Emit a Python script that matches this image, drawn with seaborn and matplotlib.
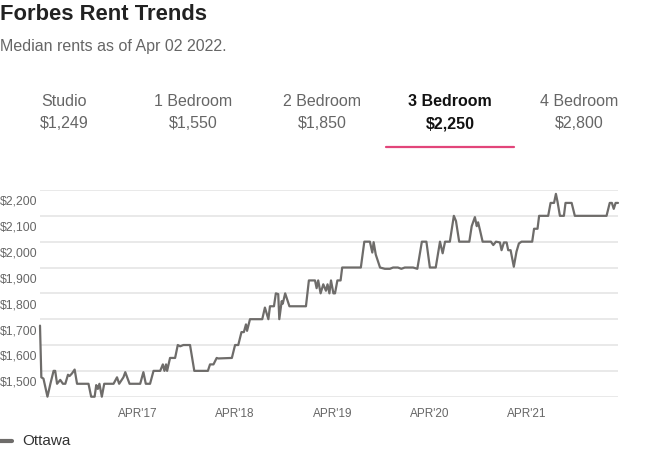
import pandas as pd
import matplotlib.pyplot as plt
import matplotlib.transforms as mtransforms
from matplotlib.lines import Line2D
import seaborn as sns

# median 3 bedroom rent, Ottawa
dates = [
    "2016-03-30", "2016-04-04", "2016-04-12", "2016-04-27", "2016-05-08", "2016-05-20",
    "2016-05-26", "2016-06-02", "2016-06-14", "2016-06-24", "2016-07-03", "2016-07-13",
    "2016-07-19", "2016-07-28", "2016-08-07", "2016-08-16", "2016-09-28", "2016-10-08",
    "2016-10-21", "2016-10-27", "2016-11-02", "2016-11-08", "2016-11-17", "2016-11-26",
    "2016-12-31", "2017-01-13", "2017-01-21", "2017-02-06", "2017-02-13", "2017-03-01",
    "2017-04-10", "2017-04-22", "2017-05-01", "2017-05-17", "2017-05-30", "2017-06-24",
    "2017-07-04", "2017-07-10", "2017-07-16", "2017-07-20", "2017-07-31", "2017-08-19",
    "2017-08-29", "2017-09-07", "2017-09-19", "2017-10-14", "2017-10-30", "2017-12-20",
    "2017-12-28", "2018-01-10", "2018-01-22", "2018-01-28", "2018-03-20", "2018-04-01",
    "2018-04-13", "2018-04-25", "2018-05-04", "2018-05-12", "2018-05-16", "2018-05-27",
    "2018-07-12", "2018-07-22", "2018-08-04", "2018-08-10", "2018-08-25", "2018-09-01",
    "2018-09-10", "2018-09-14", "2018-09-23", "2018-09-27", "2018-10-06", "2018-10-22",
    "2018-12-23", "2019-01-03", "2019-01-26", "2019-02-01", "2019-02-07", "2019-02-16",
    "2019-02-26", "2019-03-08", "2019-03-14", "2019-03-21", "2019-03-27", "2019-04-05",
    "2019-04-11", "2019-04-20", "2019-05-02", "2019-05-08", "2019-07-17", "2019-07-30",
    "2019-08-20", "2019-08-29", "2019-09-03", "2019-09-11", "2019-09-27", "2019-10-15",
    "2019-11-03", "2019-11-15", "2019-12-03", "2019-12-16", "2019-12-29", "2020-01-29",
    "2020-02-14", "2020-03-02", "2020-03-19", "2020-04-01", "2020-04-23", "2020-05-09",
    "2020-05-19", "2020-05-28", "2020-06-15", "2020-06-30", "2020-07-08", "2020-07-20",
    "2020-08-27", "2020-09-05", "2020-09-17", "2020-09-24", "2020-09-29", "2020-10-06",
    "2020-10-16", "2020-11-16", "2020-11-25", "2020-12-05", "2020-12-20", "2020-12-26",
    "2021-01-04", "2021-01-14", "2021-01-20", "2021-01-29", "2021-02-10", "2021-02-20",
    "2021-03-01", "2021-03-11", "2021-04-20", "2021-04-27", "2021-05-10", "2021-05-16",
    "2021-06-19", "2021-06-28", "2021-07-11", "2021-07-18", "2021-07-24", "2021-08-02",
    "2021-08-17", "2021-08-23", "2021-09-15", "2021-09-27", "2022-01-24", "2022-02-05",
    "2022-02-13", "2022-02-20", "2022-02-27", "2022-03-08",
]
rents = [
    1775, 1575, 1570, 1500, 1550, 1600,
    1600, 1550, 1565, 1550, 1550, 1585,
    1580, 1590, 1605, 1550, 1550, 1500,
    1500, 1545, 1530, 1550, 1500, 1550,
    1550, 1575, 1550, 1575, 1595, 1550,
    1550, 1595, 1550, 1550, 1600, 1600,
    1625, 1600, 1625, 1600, 1650, 1650,
    1700, 1695, 1700, 1700, 1600, 1600,
    1625, 1625, 1650, 1648, 1650, 1700,
    1700, 1750, 1750, 1780, 1755, 1800,
    1800, 1845, 1800, 1850, 1850, 1900,
    1897, 1800, 1870, 1860, 1900, 1850,
    1850, 1950, 1950, 1920, 1950, 1900,
    1935, 1910, 1935, 1900, 1950, 1900,
    1900, 1950, 1950, 2000, 2000, 2100,
    2100, 2058, 2098, 2050, 2000, 1995,
    1995, 2000, 2000, 1995, 2000, 2000,
    1995, 2100, 2100, 2000, 2000, 2100,
    2055, 2100, 2100, 2200, 2180, 2100,
    2100, 2160, 2195, 2160, 2175, 2145,
    2100, 2100, 2087, 2100, 2097, 2067,
    2097, 2097, 2067, 2067, 2003, 2061,
    2093, 2100, 2100, 2150, 2150, 2200,
    2200, 2250, 2250, 2285, 2255, 2200,
    2200, 2250, 2250, 2200, 2200, 2250,
    2250, 2227, 2250, 2250,
]

tab_names = ["Studio", "1 Bedroom", "2 Bedroom", "3 Bedroom", "4 Bedroom"]
tab_values = ["$1,249", "$1,550", "$1,850", "$2,250", "$2,800"]
selected_tab = "3 Bedroom"

y_ticks = [1500, 1600, 1700, 1800, 1900, 2000, 2100, 2200, 2300]
y_labels = ["$1,500", "$1,600", "$1,700", "$1,800", "$1,900", "$2,000", "$2,100", "$2,200"]
x_ticks = ["2017-04-01", "2018-04-01", "2019-04-01", "2020-04-01", "2021-04-01"]
x_labels = ["APR'17", "APR'18", "APR'19", "APR'20", "APR'21"]

df = pd.DataFrame({"date": pd.to_datetime(dates), "rent": rents})

sns.set_style("white")
plt.rcParams["font.family"] = ["Liberation Sans", "DejaVu Sans"]

W, H = 647, 455
fig = plt.figure(figsize=(W / 100, H / 100), dpi=100)
ax = fig.add_axes([40 / W, 1 - 396.7 / H, 578 / W, (396.7 - 190) / H])

sns.lineplot(data=df, x="date", y="rent", ax=ax, color="#6e6c6a", linewidth=1.6)
for ln in ax.lines:
    ln.set_clip_on(False)

ax.set_xlim(df["date"].min(), df["date"].max())
ax.set_ylim(1500, 2300)
ax.set_yticks(y_ticks)
ax.set_yticklabels([])
ax.yaxis.grid(True, color="#e3e3e3", linewidth=1.1)
ax.xaxis.grid(False)
ax.set_xticks(pd.to_datetime(x_ticks))
ax.set_xticklabels(x_labels, fontsize=8.5, color="#666666")
ax.tick_params(axis="both", length=0)
ax.tick_params(axis="x", pad=8)
ax.set_xlabel("")
ax.set_ylabel("")
for s in ax.spines.values():
    s.set_visible(False)

# y labels sit above their gridlines at the left edge
trans = mtransforms.blended_transform_factory(fig.transFigure, ax.transData)
trans = mtransforms.offset_copy(trans, fig=fig, x=0, y=14, units="dots")
for val, lab in zip(y_ticks, y_labels):
    ax.text(0.0, val, lab, transform=trans, ha="left", va="center",
            fontsize=8.8, color="#666666")

# header
fig.text(0.0, 1 - 14 / H, "Forbes Rent Trends", fontsize=15.8, fontweight="bold",
         color="#222222", ha="left", va="center")
fig.text(0.0, 1 - 47 / H, "Median rents as of Apr 02 2022.", fontsize=11.5,
         color="#666666", ha="left", va="center")

tab_x = [64, 193, 322, 450, 579]
for cx, name, val in zip(tab_x, tab_names, tab_values):
    sel = name == selected_tab
    kw = dict(fontsize=11.5, ha="center", va="center",
              color="#111111" if sel else "#666666",
              fontweight="bold" if sel else "normal")
    fig.text(cx / W, 1 - 101 / H, name, **kw)
    fig.text(cx / W, 1 - 124 / H, val, **kw)
fig.add_artist(Line2D([386 / W, 514 / W], [1 - 147 / H] * 2, color="#e2457a", lw=1.6))

# legend
fig.add_artist(Line2D([0, 12 / W], [1 - 441 / H] * 2, color="#6e6c6a", lw=3))
fig.text(22 / W, 1 - 441 / H, "Ottawa", fontsize=11, color="#333333",
         ha="left", va="center")

fig.savefig("out.png", dpi=100)
